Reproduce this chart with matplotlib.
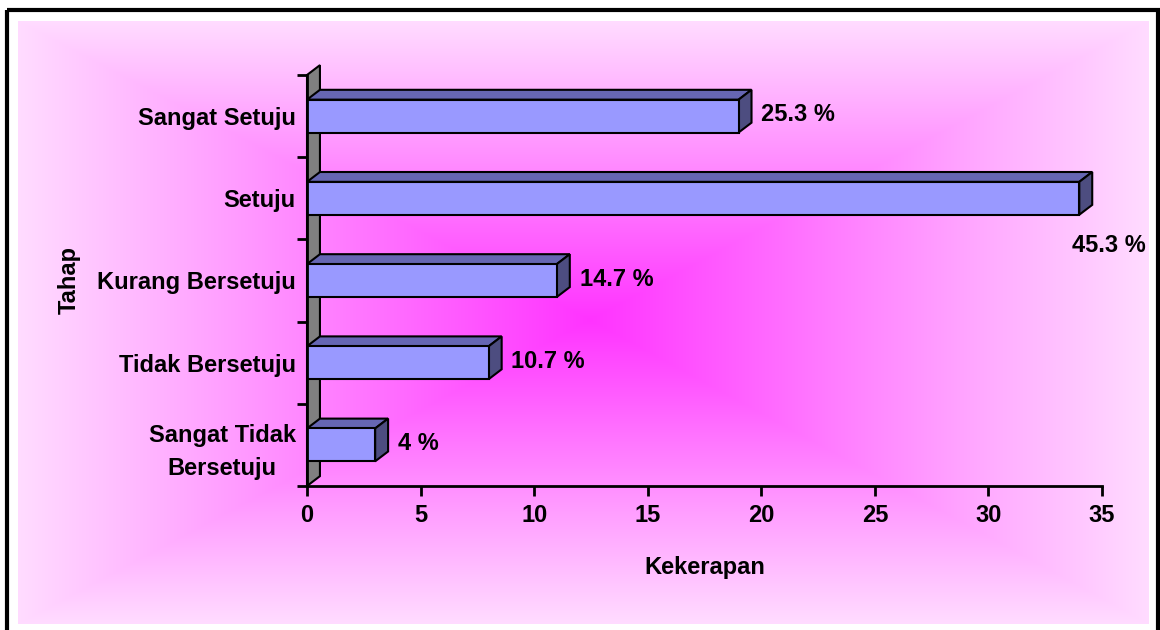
import numpy as np
import matplotlib
matplotlib.use('Agg')
from matplotlib import pyplot as plt
from matplotlib.patches import Polygon, Rectangle

categories = ['Sangat Tidak\nBersetuju', 'Tidak Bersetuju', 'Kurang Bersetuju',
              'Setuju', 'Sangat Setuju']
kekerapan = [3, 8, 11, 34, 19]
peratus = ['4 %', '10.7 %', '14.7 %', '45.3 %', '25.3 %']
x_ticks = [0, 5, 10, 15, 20, 25, 30, 35]

plt.rcParams['font.family'] = ['Liberation Sans', 'DejaVu Sans']
plt.rcParams['font.weight'] = 'bold'
FS = 17

W, H = 1160, 630
fig = plt.figure(figsize=(W / 100, H / 100), dpi=100)

# background: outer frame + rectangular "from centre" gradient
bg = fig.add_axes([0, 0, 1, 1], zorder=0)
bg.set_xlim(0, W)
bg.set_ylim(H, 0)
bg.axis('off')
x0, x1, y0, y1 = 18, 1149, 21, 624
cx, cy = 590, 320
gx = np.arange(x0, x1) + 0.5
gy = np.arange(y0, y1) + 0.5
X, Y = np.meshgrid(gx, gy)
tx = np.where(X < cx, (cx - X) / (cx - x0), (X - cx) / (x1 - cx))
ty = np.where(Y < cy, (cy - Y) / (cy - y0), (Y - cy) / (y1 - cy))
t = np.clip(np.maximum(tx, ty), 0, 1)
c_mid = np.array([255, 51, 255]) / 255
c_edge = np.array([255, 220, 255]) / 255
img = c_mid[None, None, :] * (1 - t[..., None]) + c_edge[None, None, :] * t[..., None]
bg.imshow(img, extent=(x0, x1, y1, y0), aspect='auto', interpolation='bilinear')
bg.add_patch(Rectangle((7, 10), 1151, 640, fill=False, lw=3, ec='black', clip_on=False))

ax = fig.add_axes([307 / W, 1 - 486 / H, 795 / W, 411 / H], zorder=1)
ax.patch.set_visible(False)
ax.set_xlim(0, 35)
ax.set_ylim(-0.5, 4.5)

ypos = np.arange(len(categories))
bar_h = 0.4
dx, dy = 0.57, 0.12

# side wall
ax.add_patch(Polygon([(0, -0.5), (dx, -0.5 + dy), (dx, 4.5 + dy), (0, 4.5)],
                     closed=True, fc='#808080', ec='black', lw=1.5,
                     clip_on=False, zorder=1))

ax.barh(ypos, kekerapan, height=bar_h, color='#9999FF', edgecolor='black',
        linewidth=1.5, zorder=3)
for y, v in zip(ypos, kekerapan):
    top = y + bar_h / 2
    bot = y - bar_h / 2
    ax.add_patch(Polygon([(0, top), (v, top), (v + dx, top + dy), (dx, top + dy)],
                         closed=True, fc='#6666B3', ec='black', lw=1.5,
                         clip_on=False, zorder=2))
    ax.add_patch(Polygon([(v, bot), (v + dx, bot + dy), (v + dx, top + dy), (v, top)],
                         closed=True, fc='#4D4D80', ec='black', lw=1.5,
                         clip_on=False, zorder=2))

# offsets in points from the bar's right edge; Setuju label sits below, centred
label_offsets = [(7, 1), (7, 1), (7, 1), (12, -34), (7, 1)]
for y, v, p, off in zip(ypos, kekerapan, peratus, label_offsets):
    ha = 'center' if off[1] < 0 else 'left'
    ax.annotate(p, xy=(v + dx, y), xytext=off, textcoords='offset points',
                ha=ha, va='center', fontsize=FS, fontweight='bold',
                annotation_clip=False)

for s in ['top', 'right']:
    ax.spines[s].set_visible(False)
for s in ['left', 'bottom']:
    ax.spines[s].set_linewidth(2)
    ax.spines[s].set_zorder(4)

ax.set_xticks(x_ticks)
ax.set_xticklabels([str(v) for v in x_ticks], fontsize=FS, fontweight='bold')
ax.tick_params(axis='x', direction='out', length=7, width=2, pad=6)

ax.set_yticks(np.arange(-0.5, 5, 1))
ax.set_yticklabels([])
ax.tick_params(axis='y', which='major', direction='out', length=7, width=2)
ax.set_yticks(ypos, minor=True)
ax.set_yticklabels(categories, minor=True, fontsize=FS, fontweight='bold',
                   multialignment='center', linespacing=1.55)
ax.tick_params(axis='y', which='minor', length=0, pad=8)

ax.set_xlabel('Kekerapan', fontsize=FS, fontweight='bold', labelpad=21)
ax.set_ylabel('Tahap', fontsize=FS, fontweight='bold')
ax.yaxis.set_label_coords(-226 / 795, 0.5)

fig.savefig('out.png', dpi=100)
